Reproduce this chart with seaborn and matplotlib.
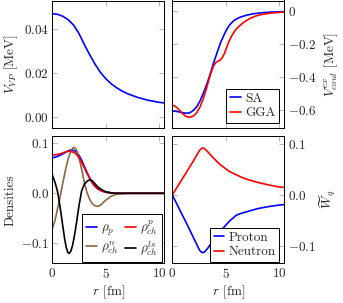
"""
Four-panel plot: vacuum polarisation, Coulomb exchange, densities and W_q.
"""
import numpy as np
import matplotlib
matplotlib.use("Agg")
import matplotlib.pyplot as plt
import seaborn as sns

# ---- data ----
r_vp = [0, 0.5, 1.0, 1.5, 2.0, 2.5, 3.0, 3.5, 4.0, 4.5, 5.0, 5.5, 6.0, 6.5, 7.0, 8.0, 9.0, 10.0, 10.5]
v_vp = [0.0470, 0.0467, 0.0458, 0.0442, 0.0418, 0.0380, 0.0330, 0.0284, 0.0241, 0.0204,
        0.0175, 0.0152, 0.0134, 0.0119, 0.0107, 0.0089, 0.0076, 0.0067, 0.0064]

r_sa = [0, 0.5, 1.0, 1.35, 1.6, 1.8, 2.05, 2.3, 2.6, 2.9, 3.15, 3.4, 3.65, 3.85, 4.1, 4.3, 4.55,
        4.8, 5.1, 5.4, 5.7, 6.0, 6.4, 7.0, 7.6, 8.5, 9.2, 10.5]
v_sa = [-0.606, -0.610, -0.617, -0.620, -0.618, -0.611, -0.598, -0.580, -0.545, -0.500, -0.458,
        -0.412, -0.362, -0.317, -0.270, -0.232, -0.188, -0.150, -0.110, -0.080, -0.060, -0.046,
        -0.034, -0.022, -0.014, -0.007, -0.004, -0.001]

r_gga = [0, 0.2, 0.4, 0.65, 0.9, 1.2, 1.5, 1.75, 2.0, 2.3, 2.6, 2.9, 3.2, 3.45, 3.7, 3.9, 4.1,
         4.3, 4.5, 4.7, 4.9, 5.1, 5.3, 5.6, 5.9, 6.3, 6.7, 7.3, 7.9, 8.5, 9.2, 10.5]
v_gga = [-0.572, -0.575, -0.584, -0.600, -0.618, -0.636, -0.644, -0.643, -0.636, -0.616, -0.582,
         -0.532, -0.470, -0.412, -0.360, -0.328, -0.310, -0.302, -0.296, -0.280, -0.255, -0.220,
         -0.185, -0.145, -0.115, -0.088, -0.066, -0.042, -0.026, -0.017, -0.010, -0.003]

r_rho = [0, 0.25, 0.5, 0.75, 1.0, 1.25, 1.5, 1.75, 2.0, 2.25, 2.5, 2.75, 3.0, 3.25, 3.5,
         3.75, 4.0, 4.25, 4.5, 5.0, 5.5, 6.0, 7.0, 8.0, 9.0, 10.0, 10.5]
rho_p = [0.071, 0.072, 0.074, 0.076, 0.079, 0.082, 0.085, 0.087, 0.086, 0.083, 0.076, 0.066, 0.054,
         0.042, 0.031, 0.021, 0.014, 0.009, 0.006, 0.002, 0.001, 0, 0, 0, 0, 0, 0]
rho_ch_p = [0.076, 0.077, 0.078, 0.079, 0.081, 0.083, 0.084, 0.084, 0.082, 0.078, 0.071, 0.062, 0.051,
            0.040, 0.030, 0.021, 0.014, 0.009, 0.006, 0.002, 0.001, 0, 0, 0, 0, 0, 0]
rho_ch_n = [-0.070, -0.055, -0.030, -0.005, 0.022, 0.048, 0.070, 0.085, 0.092, 0.088, 0.072, 0.048,
            0.022, 0.002, -0.012, -0.021, -0.025, -0.026, -0.024, -0.014, -0.006, -0.002, 0, 0, 0, 0, 0]

r_ls = [0, 0.25, 0.5, 0.75, 1.0, 1.15, 1.3, 1.45, 1.6, 1.75, 1.9, 2.05, 2.25, 2.5, 2.75, 3.0,
        3.25, 3.5, 3.75, 4.0, 4.25, 4.5, 5.0, 5.5, 6.0, 7.0, 8.0, 9.0, 10.0, 10.5]
rho_ch_ls = [0.037, 0.022, 0.003, -0.030, -0.068, -0.090, -0.108, -0.118, -0.120, -0.115, -0.104,
             -0.088, -0.062, -0.025, 0.005, 0.018, 0.024, 0.027, 0.025, 0.019, 0.013, 0.009, 0.003,
             0.001, 0, 0, 0, 0, 0, 0]

r_w = [0, 0.5, 1.0, 1.5, 2.0, 2.3, 2.55, 2.8, 3.0, 3.3, 3.6, 4.0, 4.5, 5.0, 5.4, 6.0, 6.5, 7.0,
       8.0, 9.0, 10.0, 10.5]
w_neutron = [0, 0.017, 0.034, 0.051, 0.068, 0.079, 0.088, 0.093, 0.092, 0.086, 0.079, 0.070, 0.060,
             0.052, 0.046, 0.040, 0.035, 0.031, 0.025, 0.020, 0.016, 0.015]
w_proton = [0, -0.021, -0.042, -0.063, -0.085, -0.098, -0.109, -0.114, -0.113, -0.106, -0.097, -0.085,
            -0.072, -0.060, -0.051, -0.040, -0.036, -0.033, -0.027, -0.023, -0.020, -0.019]

x_ticks = [0, 5, 10]
x_ticklabels = ["$0$", "$5$", "$10$"]

sns.set_style("ticks")
plt.rcParams.update({
    "font.family": "serif",
    "font.serif": ["cmr10"],
    "mathtext.fontset": "cm",
    "axes.formatter.use_mathtext": True,
    "font.size": 9.5,
    "axes.linewidth": 0.7,
    "axes.edgecolor": "black",
})

W, H = 343, 303
fig = plt.figure(figsize=(W / 100, H / 100), dpi=100)


def px_axes(x0, y0, x1, y1):
    return fig.add_axes([x0 / W, 1 - y1 / H, (x1 - x0) / W, (y1 - y0) / H])


ax_vp = px_axes(52.3, 0.5, 164.3, 128)
ax_ex = px_axes(172.3, 0.5, 284.2, 128)
ax_rho = px_axes(52.3, 136.3, 164.3, 263.3)
ax_w = px_axes(172.3, 136.3, 284.2, 263.3)

blue, red, brown = "#0000ff", "#ff0000", "#8a6642"
lw = 1.2

sns.lineplot(x=r_vp, y=v_vp, ax=ax_vp, color=blue, linewidth=lw)

sns.lineplot(x=r_sa, y=v_sa, ax=ax_ex, color=blue, linewidth=lw, label="SA")
sns.lineplot(x=r_gga, y=v_gga, ax=ax_ex, color=red, linewidth=lw, label="GGA")

sns.lineplot(x=r_rho, y=rho_p, ax=ax_rho, color=blue, linewidth=lw, label=r"$\rho_p$")
sns.lineplot(x=r_rho, y=rho_ch_n, ax=ax_rho, color=brown, linewidth=lw, label=r"$\rho^n_{ch}$")
sns.lineplot(x=r_rho, y=rho_ch_p, ax=ax_rho, color=red, linewidth=lw, label=r"$\rho^p_{ch}$")
sns.lineplot(x=r_ls, y=rho_ch_ls, ax=ax_rho, color="black", linewidth=lw, label=r"$\rho^{ls}_{ch}$")

sns.lineplot(x=r_w, y=w_proton, ax=ax_w, color=blue, linewidth=lw, label="Proton")
sns.lineplot(x=r_w, y=w_neutron, ax=ax_w, color=red, linewidth=lw, label="Neutron")

for ax in (ax_vp, ax_ex, ax_rho, ax_w):
    ax.set_xlim(0, 10.5)
    ax.set_xticks(x_ticks)
    ax.set_xticklabels(x_ticklabels)
    ax.tick_params(direction="in", top=True, right=True, length=3.6, width=0.6,
                   color="#a8a8a8", pad=2.5, labelsize=9.5)
    ax.set_xlabel("")
    ax.set_ylabel("")

for ax in (ax_vp, ax_ex):
    ax.tick_params(labelbottom=False)
for ax in (ax_ex, ax_w):
    ax.tick_params(labelleft=False, labelright=True)
    ax.yaxis.set_label_position("right")

ax_vp.set_ylim(-0.005, 0.053)
ax_vp.set_yticks([0, 0.02, 0.04])
ax_vp.set_yticklabels(["$0.00$", "$0.02$", "$0.04$"])
ax_vp.set_ylabel(r"$V_{VP}$ [MeV]", labelpad=3)

ax_ex.set_ylim(-0.71, 0.067)
ax_ex.set_yticks([0, -0.2, -0.4, -0.6])
ax_ex.set_yticklabels(["$0$", "$-0.2$", "$-0.4$", "$-0.6$"])
ax_ex.set_ylabel(r"$V^{ex}_{coul}$ [MeV]", labelpad=4)

ax_rho.set_ylim(-0.14, 0.114)
ax_rho.set_yticks([0.1, 0, -0.1])
ax_rho.set_yticklabels(["$0.1$", "$0.0$", "$-0.1$"])
ax_rho.set_ylabel("Densities", labelpad=3)
ax_rho.set_xlabel(r"$r$ [fm]", labelpad=2)

ax_w.set_ylim(-0.135, 0.116)
ax_w.set_yticks([0.1, 0, -0.1])
ax_w.set_yticklabels(["$0.1$", "$0.0$", "$-0.1$"])
ax_w.set_ylabel(r"$\widetilde{W}_q$", labelpad=1)
ax_w.set_xlabel(r"$r$ [fm]", labelpad=2)

leg_kw = dict(loc="lower right", borderaxespad=0, fancybox=False, edgecolor="black",
              framealpha=1, handlelength=0.8, handletextpad=0.3, borderpad=0.3,
              labelspacing=0.15, fontsize=9.5)

leg = ax_ex.legend(bbox_to_anchor=(0.956, 0.037), **leg_kw)
leg.get_frame().set_linewidth(0.7)
leg = ax_rho.legend(bbox_to_anchor=(0.977, 0.013), ncol=2, columnspacing=0.5, **leg_kw)
leg.get_frame().set_linewidth(0.7)
leg = ax_w.legend(bbox_to_anchor=(0.956, 0.008), **leg_kw)
leg.get_frame().set_linewidth(0.7)

fig.savefig("out.png", dpi=100)
